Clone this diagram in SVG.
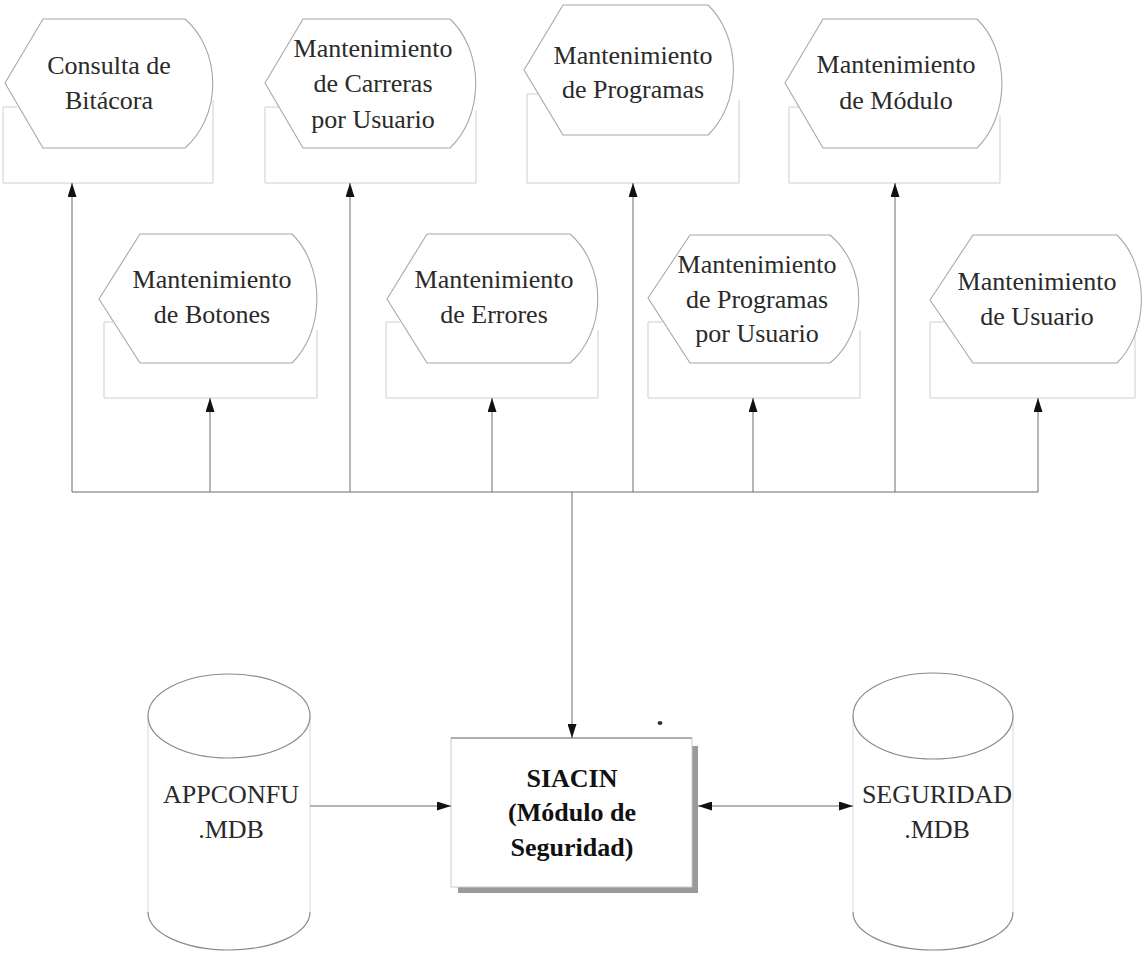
<svg xmlns="http://www.w3.org/2000/svg" width="1146" height="953" viewBox="0 0 1146 953" font-family="'Liberation Serif', 'DejaVu Serif', serif">
<defs>
<marker id="ah" markerUnits="userSpaceOnUse" markerWidth="14" markerHeight="9" refX="14" refY="4.5" orient="auto-start-reverse">
<path d="M0,0 L14,4.5 L0,9 z" fill="#111"/>
</marker>
</defs>
<style>
.hex{fill:#fff;stroke:#a8a8a8;stroke-width:1.1}
.frame{fill:none;stroke:#cfcfcf;stroke-width:1}
.t{font-family:'Liberation Serif','DejaVu Serif',serif;font-size:26px;fill:#2a2a2a;text-anchor:middle}
.tb{font-family:'Liberation Serif','DejaVu Serif',serif;font-size:26px;font-weight:bold;fill:#111;text-anchor:middle}
.c{fill:none;stroke:#6a6a6a;stroke-width:1}
.cyl{fill:none;stroke:#8a8a8a;stroke-width:1.2}
.cyls{fill:none;stroke:#d8d8d8;stroke-width:1}
</style>
<rect width="1146" height="953" fill="#fff"/>

<g id="n1">
<path class="frame" d="M17,107 H3 V183 H213 V100"/>
<path class="hex" d="M5,83 L43,19 H185 A68,80 0 0 1 185,148 H43 Z"/>
<text class="t" x="109" y="74">Consulta de</text>
<text class="t" x="109" y="109">Bitácora</text>
</g>
<g id="n2">
<path class="frame" d="M279,107 H265 V183 H476 V110"/>
<path class="hex" d="M265,83 L303,19 H450 A63,80 0 0 1 450,148 H303 Z"/>
<text class="t" x="373" y="57">Mantenimiento</text>
<text class="t" x="373" y="92">de Carreras</text>
<text class="t" x="373" y="128">por Usuario</text>
</g>
<g id="n3">
<path class="frame" d="M538,94 H527 V183 H739 V100"/>
<path class="hex" d="M524,70 L563,5 H708 A61,80 0 0 1 708,135 H563 Z"/>
<text class="t" x="633" y="64">Mantenimiento</text>
<text class="t" x="633" y="98">de Programas</text>
</g>
<g id="n4">
<path class="frame" d="M799,107 H789 V183 H1000 V115"/>
<path class="hex" d="M785,83 L823,19 H977 A61,80 0 0 1 977,148 H823 Z"/>
<text class="t" x="896" y="73">Mantenimiento</text>
<text class="t" x="896" y="109">de Módulo</text>
</g>
<g id="n5">
<path class="frame" d="M113,322 H104 V398 H317 V330"/>
<path class="hex" d="M99,299 L140,234 H292 A61,80 0 0 1 292,363 H140 Z"/>
<text class="t" x="212" y="288">Mantenimiento</text>
<text class="t" x="212" y="323">de Botones</text>
</g>
<g id="n6">
<path class="frame" d="M400,322 H386 V398 H598 V330"/>
<path class="hex" d="M387,299 L427,234 H570 A68,80 0 0 1 570,363 H427 Z"/>
<text class="t" x="494" y="288">Mantenimiento</text>
<text class="t" x="494" y="323">de Errores</text>
</g>
<g id="n7">
<path class="frame" d="M662,322 H648 V398 H860 V330"/>
<path class="hex" d="M648,298 L690,235 H830 A72,80 0 0 1 830,363 H690 Z"/>
<text class="t" x="757" y="273">Mantenimiento</text>
<text class="t" x="757" y="308">de Programas</text>
<text class="t" x="757" y="342">por Usuario</text>
</g>
<g id="n8">
<path class="frame" d="M944,322 H930 V398 H1135 V330"/>
<path class="hex" d="M930,300 L973,235 H1117 A61,80 0 0 1 1117,363 H973 Z"/>
<text class="t" x="1037" y="290">Mantenimiento</text>
<text class="t" x="1037" y="325">de Usuario</text>
</g>

<g id="appconfu">
<path class="cyls" d="M148,716 V912 M310,716 V912"/>
<ellipse class="cyl" cx="229" cy="716" rx="81" ry="42"/>
<path class="cyl" d="M148,912 A81,38 0 0 0 310,912"/>
<text class="t" x="231" y="803">APPCONFU</text>
<text class="t" x="231" y="838">.MDB</text>
</g>

<g id="seguridad">
<path class="cyls" d="M853,716 V912 M1013,716 V912"/>
<ellipse class="cyl" cx="933" cy="716" rx="80" ry="43"/>
<path class="cyl" d="M853,912 A80,38 0 0 0 1013,912"/>
<text class="t" x="937" y="803">SEGURIDAD</text>
<text class="t" x="937" y="838">.MDB</text>
</g>

<g id="siacin">
<rect x="458" y="746" width="240" height="147" fill="#9a9a9a"/>
<rect x="451" y="738" width="241" height="149" fill="#fff" stroke="#cccccc" stroke-width="1"/>
<line x1="451" y1="738" x2="692" y2="738" stroke="#777" stroke-width="1"/>
<text class="tb" x="572" y="787">SIACIN</text>
<text class="tb" x="572" y="821">(Módulo de</text>
<text class="tb" x="572" y="856">Seguridad)</text>
</g>

<g id="connectors">
<path class="c" d="M72,492 H1038"/>
<line class="c" x1="572" y1="492" x2="572" y2="738" marker-end="url(#ah)"/>
<line class="c" x1="72" y1="492" x2="72" y2="183" marker-end="url(#ah)"/>
<line class="c" x1="350" y1="492" x2="350" y2="183" marker-end="url(#ah)"/>
<line class="c" x1="633" y1="492" x2="633" y2="183" marker-end="url(#ah)"/>
<line class="c" x1="895" y1="492" x2="895" y2="183" marker-end="url(#ah)"/>
<line class="c" x1="210" y1="492" x2="210" y2="398" marker-end="url(#ah)"/>
<line class="c" x1="492" y1="492" x2="492" y2="398" marker-end="url(#ah)"/>
<line class="c" x1="753" y1="492" x2="753" y2="398" marker-end="url(#ah)"/>
<line class="c" x1="1038" y1="492" x2="1038" y2="398" marker-end="url(#ah)"/>
<line class="c" x1="310" y1="806" x2="451" y2="806" marker-end="url(#ah)"/>
<line class="c" x1="698" y1="806" x2="853" y2="806" marker-start="url(#ah)" marker-end="url(#ah)"/>
</g>
<ellipse cx="660" cy="723" rx="2.5" ry="2" fill="#333"/>
</svg>
